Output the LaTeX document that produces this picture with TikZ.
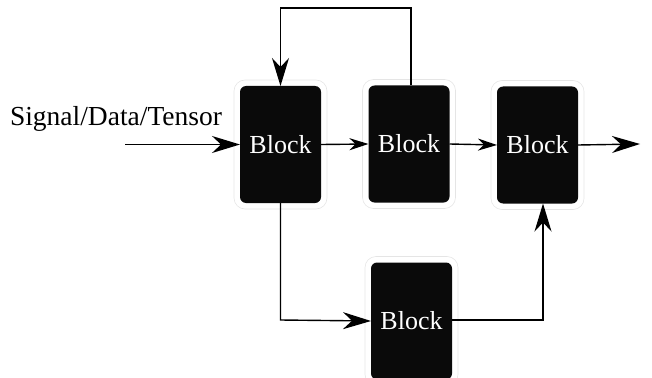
\documentclass[tikz,border=0pt]{standalone}
\usepackage{fontspec}
\setmainfont{Liberation Serif}
\usetikzlibrary{arrows.meta}

\begin{document}
\begin{tikzpicture}[x=1pt, y=-1pt, outer sep=0pt]

\tikzstyle{block}=[fill=black!96, rounded corners=6pt, minimum width=81pt, minimum height=117pt, inner sep=0pt, text=white, font=\fontsize{26}{30}\selectfont]
\tikzstyle{halo}=[draw=black!10, line width=0.6pt, rounded corners=11pt]
\tikzstyle{wire}=[line width=1.4pt]
\tikzstyle{bigtip}=[-{Stealth[length=28pt, width=17pt, inset=9pt]}]
\tikzstyle{smalltip}=[-{Stealth[length=19pt, width=12pt, inset=6pt]}]

\useasboundingbox (0,0) rectangle (652,377);

\node[block] (blk1) at (280.5,144.5) {Block}; \node[block] (blk2) at (409,144) {Block}; \node[block] (blk3) at (537.5,145) {Block};
\node[block] (blk4) at (411.5,321) {Block};

\foreach \b in {blk1,blk2,blk3,blk4}
  \draw[halo] ([xshift=-6pt, yshift=6pt]\b.north west) rectangle ([xshift=6pt, yshift=-6pt]\b.south east);

\node[anchor=base west, inner sep=0pt, font=\fontsize{27.5}{32}\selectfont] (lbl) at (10,125) {Signal/Data/Tensor};

\coordinate (in) at (125,144.5);
\coordinate (out) at (640,144);
\coordinate (fbr) at (411,8); \coordinate (fbl) at (280.5,8);
\coordinate (dn) at (280.5,320); \coordinate (up) at (543,320);

\draw[wire, line width=1.9pt, bigtip] (in) -- (blk1.west);
\draw[wire, smalltip] (blk1.east) -- (blk2.west);
\draw[wire, smalltip] (blk2.east) -- (blk3.west);
\draw[wire, bigtip] (blk3.east) -- (out);
\draw[wire, bigtip] (blk2.north -| fbr) -- (fbr) -- (fbl) -- (blk1.north);
\draw[wire, bigtip] (blk1.south) -- (dn) -- (blk4.west);
\draw[wire, bigtip] (blk4.east |- up) -- (up) -- (blk3.south -| up);

\end{tikzpicture}
\end{document}
